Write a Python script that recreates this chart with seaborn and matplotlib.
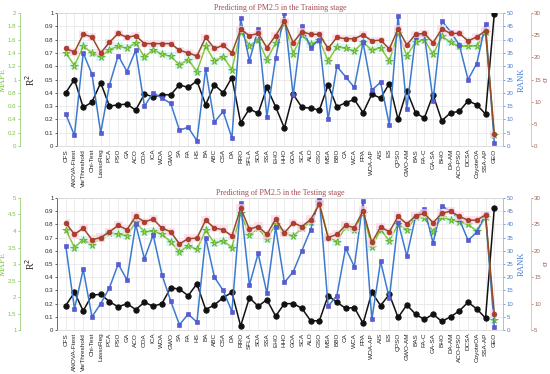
import numpy as np
import pandas as pd
import matplotlib
matplotlib.use("Agg")
import matplotlib.pyplot as plt
from matplotlib.ticker import FuncFormatter, MultipleLocator
import seaborn as sns

sns.set_style("white")
plt.rcParams['font.family'] = ['Liberation Sans', 'DejaVu Sans']

methods = ['CFS', 'ANOVA-Ftest', 'VarThreshold', 'Chi-Test', 'LassoReg', 'PCA', 'PSO', 'GA', 'ACO',
           'COA', 'ICA', 'WOA', 'GWO', 'SA', 'FA', 'HS', 'BA', 'ABC', 'CSA', 'DA', 'RRO', 'SFLA',
           'SOA', 'SSA', 'EHO', 'HHO', 'GOA', 'SCA', 'ALO', 'GSO', 'MSA', 'BBO', 'CA', 'WCA', 'FPA',
           'WOA-AP', 'AIS', 'ES', 'QPSO', 'GWO-AM', 'BAS', 'FA-C', 'GA-SA', 'BHO', 'DA-AM',
           'ACO-PSO', 'DCSA', 'CoyoteOA', 'SSA-AP', 'GEO']

# training stage
train_mape = [0.80, 1.00, 0.58, 0.66, 0.95, 0.60, 0.62, 0.63, 0.54, 0.78, 0.74, 0.77, 0.77, 0.92,
              0.88, 0.98, 0.62, 0.92, 0.80, 1.03, 0.35, 0.56, 0.49, 0.88, 0.59, 0.27, 0.78, 0.58,
              0.57, 0.54, 0.92, 0.59, 0.65, 0.70, 0.50, 0.78, 0.72, 0.94, 0.40, 0.83, 0.50, 0.42,
              0.77, 0.38, 0.50, 0.52, 0.68, 0.62, 0.48, 1.99]
train_r2 = [0.70, 0.605, 0.75, 0.70, 0.67, 0.725, 0.75, 0.735, 0.775, 0.67, 0.725, 0.69, 0.675,
            0.61, 0.65, 0.56, 0.75, 0.64, 0.67, 0.575, 0.86, 0.755, 0.795, 0.65, 0.775, 0.925,
            0.695, 0.835, 0.765, 0.795, 0.64, 0.745, 0.735, 0.715, 0.78, 0.72, 0.74, 0.64, 0.85,
            0.68, 0.78, 0.80, 0.69, 0.825, 0.78, 0.75, 0.75, 0.755, 0.855, 0.085]
train_sigma = [22.0, 21.2, 25.2, 24.6, 21.0, 23.4, 25.4, 24.5, 24.9, 23.1, 23.1, 23.1, 23.1, 21.6,
               21.0, 20.3, 24.5, 22.0, 22.7, 21.0, 26.3, 24.9, 25.4, 22.2, 24.9, 28.1, 23.3, 25.8,
               25.2, 25.2, 22.0, 24.5, 24.2, 24.2, 25.1, 23.7, 23.9, 21.9, 26.4, 22.8, 25.2, 25.4,
               23.3, 26.4, 25.4, 25.4, 23.7, 24.6, 26.0, 2.6]
train_rank = [12, 4, 35, 27, 5, 23, 34, 28, 36, 15, 20, 18, 16, 6, 7, 2, 29, 9, 13, 3, 48, 32, 44,
              11, 33, 50, 19, 45, 37, 40, 10, 30, 26, 22, 39, 21, 24, 8, 49, 14, 41, 42, 17, 47,
              43, 38, 25, 31, 46, 1]

# testing stage
test_mape = [1.74, 2.14, 1.58, 2.06, 2.08, 1.86, 1.70, 1.80, 1.62, 1.84, 1.72, 1.80, 2.28, 2.24,
             2.04, 2.40, 1.62, 1.76, 1.98, 2.14, 1.12, 1.98, 1.72, 1.92, 1.42, 1.80, 1.80, 1.66,
             1.28, 1.28, 2.04, 1.84, 1.66, 1.68, 1.20, 2.14, 1.74, 2.08, 1.38, 1.76, 1.48, 1.32,
             1.48, 1.26, 1.40, 1.58, 1.84, 1.64, 1.36, 4.70]
test_r2 = [0.76, 0.625, 0.685, 0.645, 0.70, 0.735, 0.725, 0.715, 0.815, 0.745, 0.75, 0.725, 0.67,
           0.59, 0.64, 0.61, 0.755, 0.66, 0.675, 0.625, 0.885, 0.72, 0.77, 0.69, 0.80, 0.735,
           0.71, 0.77, 0.82, 0.97, 0.705, 0.67, 0.78, 0.76, 0.885, 0.63, 0.76, 0.675, 0.80, 0.76,
           0.855, 0.85, 0.745, 0.855, 0.835, 0.82, 0.80, 0.75, 0.855, 0.075]
test_sigma = [25.3, 23.1, 24.3, 22.1, 22.5, 23.6, 24.8, 24.0, 26.5, 25.5, 26.0, 24.3, 23.6, 21.3,
              22.3, 22.4, 25.8, 24.3, 24.0, 22.8, 28.1, 24.1, 24.6, 23.1, 26.0, 23.4, 25.3, 24.6,
              25.9, 28.8, 22.5, 23.1, 24.8, 24.4, 27.6, 21.6, 24.5, 23.6, 26.5, 25.1, 26.6, 27.1,
              25.3, 27.1, 27.5, 26.5, 25.8, 25.8, 26.8, 8.1]
test_rank = [32, 8, 23, 5, 10, 16, 25, 19, 40, 27, 36, 21, 11, 2, 6, 3, 35, 20, 15, 7, 48, 17, 29,
             14, 39, 18, 22, 30, 38, 50, 9, 13, 31, 24, 49, 4, 26, 12, 41, 28, 43, 46, 33, 47, 45,
             42, 34, 37, 44, 1]

fmt = FuncFormatter(lambda v, p: '%g' % round(v, 2))
serif = 'Liberation Serif'


def panel(ax, title, mape, r2, sigma, rank, mape_lim, mape_step, sig_lim):
    df = pd.DataFrame({'method': methods, 'MAPE': mape, 'R2': r2, 'sigma': sigma, 'RANK': rank})
    ax_m = ax.twinx()
    ax_r = ax.twinx()
    ax_s = ax.twinx()

    # R2 on the main axis
    ax.set_ylim(0, 1)
    ax.yaxis.set_major_locator(MultipleLocator(0.1))
    ax.yaxis.set_major_formatter(fmt)
    pos = np.arange(len(methods))
    ax.fill_between(pos, df['R2'] - 0.03, df['R2'] + 0.03, step='mid', color='#c9f5f3', lw=0, alpha=0.7)
    sns.lineplot(data=df, x='method', y='R2', ax=ax, sort=False, estimator=None, color='#86c73e',
                 lw=1.1, marker='*', markersize=5.5, markerfacecolor='#a8d830',
                 markeredgecolor='#5aa832', markeredgewidth=0.5, zorder=4)
    ax.set_xlim(-1, len(methods))
    ax.grid(True, color='#e4e4e4', lw=0.5)
    ax.set_axisbelow(True)
    ax.set_xlabel('')
    ax.set_ylabel('R$^2$', family=serif, fontsize=7)
    ax.yaxis.set_label_coords(-0.045, 0.5)
    ax.tick_params(axis='x', labelrotation=90, labelsize=4.6, labelcolor='#222222', length=0, pad=2)
    ax.tick_params(axis='y', labelsize=4.4, length=1.5, width=0.5, pad=1)
    for sp in ['top', 'right', 'bottom']:
        ax.spines[sp].set_color('#d0d0d0')
        ax.spines[sp].set_linewidth(0.5)
    ax.spines['left'].set_color('#555555')
    ax.spines['left'].set_linewidth(0.6)
    ax.set_title(title, family=serif, fontsize=5.8, color='#a04a50', pad=2.5)

    # MAPE outer left
    ax_s.fill_between(pos, df['sigma'] - 0.8, df['sigma'] + 0.8, step='mid', color='#ffd3e6', lw=0, alpha=0.7)
    ax_m.set_ylim(*mape_lim)
    sns.lineplot(data=df, x='method', y='MAPE', ax=ax_m, sort=False, estimator=None, color='#111111',
                 lw=1.1, marker='o', markersize=3.8, markerfacecolor='#111111',
                 markeredgecolor='#111111', zorder=5)
    ax_m.yaxis.set_ticks_position('left')
    ax_m.yaxis.set_label_position('left')
    ax_m.spines['left'].set_position(('axes', -0.083))
    ax_m.spines['left'].set_color('#9ad27a')
    ax_m.spines['left'].set_linewidth(0.6)
    for sp in ['top', 'right', 'bottom']:
        ax_m.spines[sp].set_visible(False)
    ax_m.yaxis.set_major_locator(MultipleLocator(mape_step))
    ax_m.yaxis.set_major_formatter(fmt)
    ax_m.tick_params(axis='y', labelsize=4.4, colors='#7cc243', length=1.5, width=0.5, pad=1)
    ax_m.set_ylabel('MAPE', family=serif, fontsize=6.2, color='#7cc243')
    ax_m.yaxis.set_label_coords(-0.112, 0.5)

    # sigma outer right
    ax_s.set_ylim(*sig_lim)
    sns.lineplot(data=df, x='method', y='sigma', ax=ax_s, sort=False, estimator=None, color='#9a4a26',
                 lw=1.1, marker='o', markersize=3.5, markerfacecolor='#b83a2c',
                 markeredgecolor='#8a3a22', markeredgewidth=0.4, zorder=3)
    ax_s.spines['right'].set_position(('axes', 1.062))
    ax_s.spines['right'].set_color('#e3b8b8')
    ax_s.spines['right'].set_linewidth(0.6)
    for sp in ['top', 'left', 'bottom']:
        ax_s.spines[sp].set_visible(False)
    ax_s.yaxis.set_major_locator(MultipleLocator(5))
    ax_s.yaxis.set_major_formatter(fmt)
    ax_s.tick_params(axis='y', labelsize=4.4, colors='#a06a5a', length=1.5, width=0.5, pad=1)
    ax_s.set_ylabel('σ', family=serif, fontsize=6.5, color='#a05040', rotation=90)
    ax_s.yaxis.set_label_coords(1.087, 0.5)

    # RANK inner right
    ax_r.set_ylim(0, 50)
    sns.lineplot(data=df, x='method', y='RANK', ax=ax_r, sort=False, estimator=None, color='#3c7ad0',
                 lw=1.1, marker='s', markersize=3.3, markerfacecolor='#5a5ad8',
                 markeredgecolor='#4a4ac0', markeredgewidth=0.4, zorder=2)
    ax_r.spines['right'].set_color('#9cc0ee')
    ax_r.spines['right'].set_linewidth(0.6)
    for sp in ['top', 'left', 'bottom']:
        ax_r.spines[sp].set_visible(False)
    ax_r.yaxis.set_major_locator(MultipleLocator(5))
    ax_r.tick_params(axis='y', labelsize=4.4, colors='#4a80d0', length=1.5, width=0.5, pad=1)
    ax_r.set_ylabel('RANK', family=serif, fontsize=6.2, color='#4a80d0')
    ax_r.yaxis.set_label_coords(1.034, 0.5)

    for a in (ax_m, ax_r, ax_s):
        a.grid(False)
        a.set_xlabel('')
        a.set_xlim(-1, len(methods))


fig = plt.figure(figsize=(5.5, 3.74), dpi=100)
ax1 = fig.add_axes([0.1036, 0.6096, 0.811, 0.3556])
ax2 = fig.add_axes([0.1036, 0.1176, 0.811, 0.353])

panel(ax1, 'Predicting of PM2.5 in the Training stage', train_mape, train_r2, train_sigma, train_rank,
      (0, 2), 0.2, (0, 30))
panel(ax2, 'Predicting of PM2.5 in the Testing stage', test_mape, test_r2, test_sigma, test_rank,
      (1, 5), 0.5, (5, 30))

fig.savefig('out.png', dpi=100)
